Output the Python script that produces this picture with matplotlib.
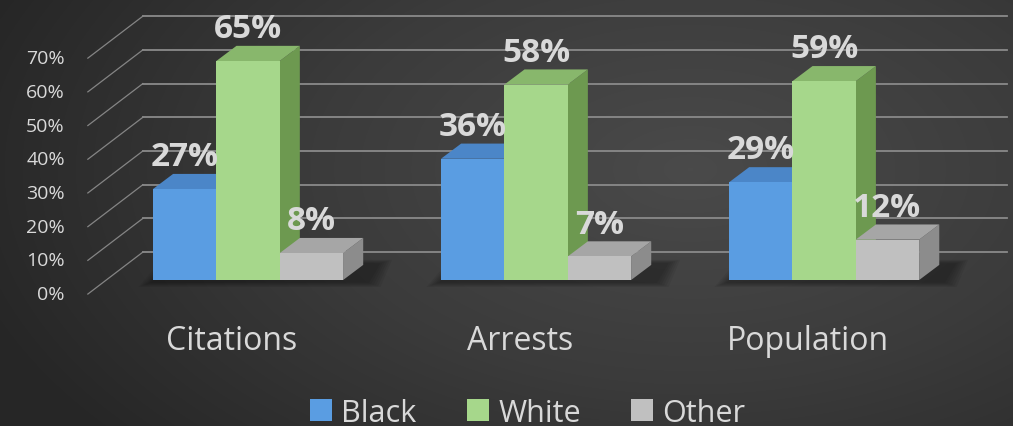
import numpy as np
import matplotlib.pyplot as plt
from matplotlib.patches import Polygon, Patch
from matplotlib.colors import LinearSegmentedColormap

# data: share of each group per category (percent)
categories = ["Citations", "Arrests", "Population"]
series_names = ["Black", "White", "Other"]
black = [27, 36, 29]
white = [65, 58, 59]
other = [8, 7, 12]
tick_values = [0, 10, 20, 30, 40, 50, 60, 70]

plt.rcParams['font.family'] = ['Open Sans', 'DejaVu Sans']
txt_color = '#d9d9d9'

# face colours for each series: front, top, side
faces = {
    "Black": ('#5a9de2', '#4b86c8', '#3e71ad'),
    "White": ('#a6d78b', '#88b76c', '#6d9950'),
    "Other": ('#c0c0c0', '#a6a6a6', '#8c8c8c'),
}

# fake 3d geometry (data units)
bar_w = 0.22
dx, dy = 0.07, 4.5              # depth offset of the bars
wall_x0, wall_x1, wall_end = -0.556, -0.365, 2.635
floor_front, wall_back = -4.15, 8.3

fig = plt.figure(figsize=(10.13, 4.27), dpi=100)

# dark radial background
bg = fig.add_axes([0, 0, 1, 1])
bg.axis('off')
yy, xx = np.mgrid[0:427, 0:1013]
r = np.hypot((xx - 690) / 760, (yy - 170) / 430)
bg_cmap = LinearSegmentedColormap.from_list('bg', ['#4a4a4a', '#3b3b3b', '#262626'])
bg.imshow(np.clip(r, 0, 1), cmap=bg_cmap, vmin=0, vmax=1, aspect='auto')

ax = fig.add_axes([0, 0, 1, 1])
ax.axis('off')
ax.set_xlim(-0.861, 2.656)
ax.set_ylim(-43.3, 83.4)

# gridlines: slanted floor lines on the left plus horizontal lines on the back wall
for t in tick_values:
    ax.plot([wall_x0, wall_x1], [t + floor_front, t + wall_back], color='#858585', lw=0.9, zorder=1)
    ax.plot([wall_x1, wall_end], [t + wall_back, t + wall_back], color='#8a8a8a', lw=1.3, zorder=1)
    ax.text(wall_x0 - 0.08, t + floor_front, f"{t}%", ha='right', va='center',
            fontsize=14, color=txt_color, zorder=5)

series = [black, white, other]
x = np.arange(len(categories))

# soft shadow under each group of bars
for xi in x:
    left = xi - 1.5 * bar_w
    right = xi + 1.5 * bar_w + dx
    for k in range(6):
        g = 0.008 * k
        pts = [(left - 0.01 - g, -0.8 - 0.25 * k), (right + 0.02 + g, -0.8 - 0.25 * k),
               (right + 0.06 + g, dy + 0.5 + 0.2 * k), (left + dx - g, dy + 0.5 + 0.2 * k)]
        ax.add_patch(Polygon(pts, closed=True, facecolor='black', edgecolor='none',
                             alpha=0.06, zorder=2))

for j, (name, vals) in enumerate(zip(series_names, series)):
    front, top, side = faces[name]
    for xi, v in zip(x, vals):
        x0 = xi + (j - 1.5) * bar_w
        x1 = x0 + bar_w
        side_pts = [(x1, 0), (x1 + dx, dy), (x1 + dx, v + dy), (x1, v)]
        top_pts = [(x0, v), (x1, v), (x1 + dx, v + dy), (x0 + dx, v + dy)]
        ax.add_patch(Polygon(side_pts, closed=True, facecolor=side, edgecolor='none', zorder=3))
        ax.add_patch(Polygon(top_pts, closed=True, facecolor=top, edgecolor='none', zorder=3))
        ax.bar(x0, v, width=bar_w, align='edge', color=front, edgecolor='none', zorder=3)
        ax.text(x0 + bar_w / 2, v + 7.1, f"{v}%", ha='center', va='baseline',
                fontsize=24, fontweight='bold', color=txt_color, zorder=6)

for xi, cat in zip(x, categories):
    ax.text(xi - 0.056, -17.8, cat, ha='center', va='center', fontsize=23, color=txt_color)

handles = [Patch(facecolor=faces[n][0], edgecolor='none') for n in series_names]
fig.legend(handles, series_names, loc='center', bbox_to_anchor=(0.521, 0.031), ncol=3,
           frameon=False, fontsize=22, labelcolor=txt_color, handlelength=0.72,
           handleheight=0.72, handletextpad=0.3, columnspacing=1.65, borderpad=0)

fig.savefig('out.png', dpi=100)
